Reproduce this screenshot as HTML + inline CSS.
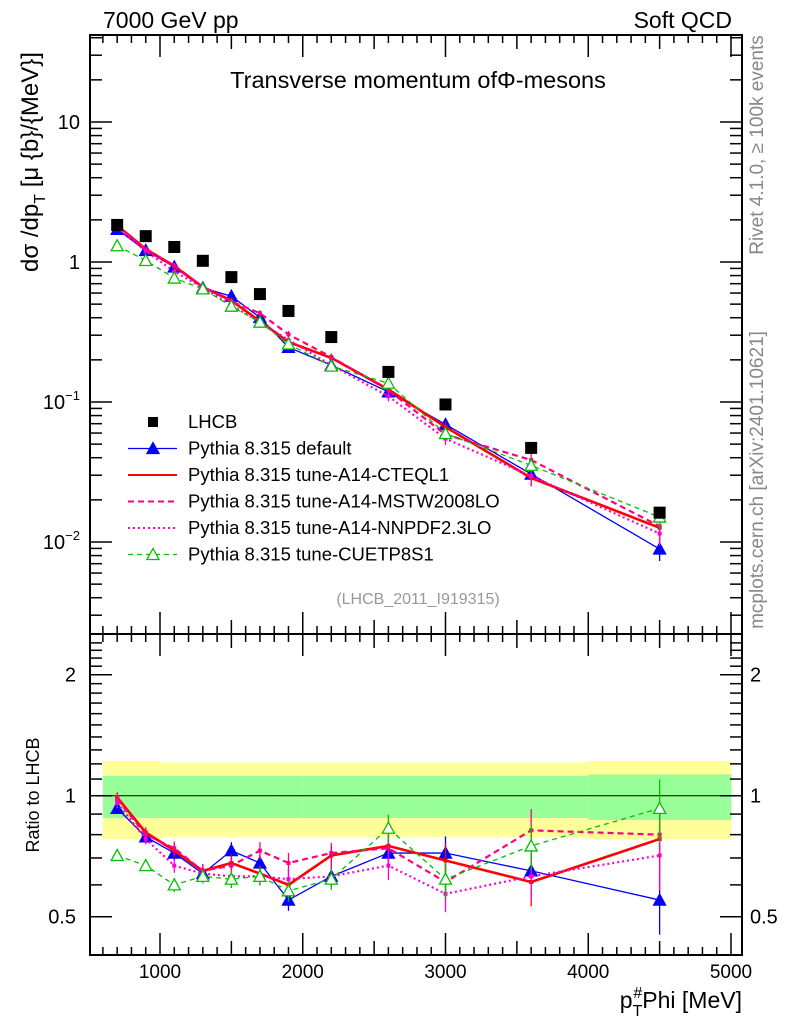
<!DOCTYPE html>
<html><head><meta charset="utf-8"><style>
body{margin:0;background:#fff}
svg text{font-family:"Liberation Sans",sans-serif}
</style></head><body>
<svg id="c" width="786" height="1024" xmlns="http://www.w3.org/2000/svg">
<text x="103" y="28" font-size="23">7000 GeV pp</text>
<text x="732" y="28" font-size="23" text-anchor="end">Soft QCD</text>
<text x="418" y="88" font-size="23.5" text-anchor="middle">Transverse momentum ofΦ-mesons</text>
<text transform="translate(38,162) rotate(-90)" font-size="24" text-anchor="middle">dσ /dp<tspan font-size="16" dy="7">T</tspan><tspan dy="-7"> [μ {b}/{MeV}]</tspan></text>
<text transform="translate(39,795) rotate(-90)" font-size="18" text-anchor="middle">Ratio to LHCB</text>
<text transform="translate(763,145) rotate(-90)" font-size="19" fill="#888" text-anchor="middle">Rivet 4.1.0, ≥ 100k events</text>
<text transform="translate(763,480) rotate(-90)" font-size="19" fill="#888" text-anchor="middle">mcplots.cern.ch [arXiv:2401.10621]</text>
<text x="418" y="604" font-size="16" fill="#999" text-anchor="middle">(LHCB_2011_I919315)</text>
<text x="742" y="1008" font-size="23" text-anchor="end">p<tspan font-size="16" dy="8">T</tspan><tspan font-size="16" dy="-18" dx="-9">#</tspan><tspan dy="10">Phi [MeV]</tspan></text>
<g id="bands"></g><g id="axes"></g><g id="marks"></g><g id="legend"></g>
</svg>
<script>
const xs=[700,900,1100,1300,1500,1700,1900,2200,2600,3000,3600,4500];
const lhcb=[1.84,1.53,1.28,1.02,0.78,0.59,0.447,0.291,0.164,0.096,0.047,0.0162];
const rDefault=[0.93,0.79,0.72,0.64,0.73,0.68,0.55,0.63,0.72,0.72,0.65,0.55];
const rCTEQ=[0.99,0.81,0.73,0.65,0.68,0.64,0.60,0.71,0.75,0.69,0.61,0.78];
const rMSTW=[0.98,0.80,0.74,0.65,0.67,0.73,0.68,0.72,0.74,0.61,0.82,0.80];
const rNNPDF=[0.96,0.78,0.67,0.64,0.63,0.63,0.62,0.63,0.67,0.57,0.63,0.71];
const rCUET=[0.71,0.67,0.60,0.63,0.62,0.63,0.58,0.62,0.83,0.62,0.75,0.93];
const relErr=[0.03,0.03,0.04,0.04,0.05,0.05,0.06,0.06,0.08,0.1,0.13,0.18];
const binEdges=[600,800,1000,1200,1400,1600,1800,2000,2400,2800,3200,4000,5000];
const bandGreen=[0.12,0.12,0.12,0.12,0.12,0.12,0.12,0.12,0.12,0.12,0.12,0.13];
const bandYellow=[0.22,0.22,0.21,0.21,0.21,0.21,0.21,0.21,0.21,0.21,0.21,0.22];
const xTicks=[1000,2000,3000,4000,5000];
const NS='http://www.w3.org/2000/svg';
const L=90,R=742,T=35,MB=634,RB=955;
const X=v=>160+(v-1000)*0.14275;
const Y=v=>262-140*Math.log10(v);
const RY=v=>795.7-121*Math.log2(v);
function mk(p,tag,at){const e=document.createElementNS(NS,tag);for(const k in at)e.setAttribute(k,at[k]);p.appendChild(e);return e;}
const gB=document.getElementById('bands'),gA=document.getElementById('axes'),gM=document.getElementById('marks'),gL=document.getElementById('legend');
for(let i=0;i<bandYellow.length;i++){
 let e=mk(gB,'rect',{x:X(binEdges[i]),y:RY(1+bandYellow[i]),width:X(binEdges[i+1])-X(binEdges[i])+0.5,height:RY(1-bandYellow[i])-RY(1+bandYellow[i]),fill:'#ffff99'});
 
 e=mk(gB,'rect',{x:X(binEdges[i]),y:RY(1+bandGreen[i]),width:X(binEdges[i+1])-X(binEdges[i])+0.5,height:RY(1-bandGreen[i])-RY(1+bandGreen[i]),fill:'#99ff99'});
 
}
let ln=mk(gA,'line',{x1:L,x2:R,y1:RY(1),y2:RY(1),stroke:'#000','stroke-width':1});

[[T,MB],[MB,RB]].forEach(([a,b],k)=>{const f=mk(gA,'rect',{x:L,y:a,width:R-L,height:b-a,fill:'none',stroke:'#000','stroke-width':2});
});
for(let v=600;v<=5000;v+=100){const big=v%1000==0,mid=v%500==0;const len=big?22:(mid?14:8);const x=X(v);
 [[MB,-1],[T,1],[RB,-1],[MB,1]].forEach(([y,d])=>mk(gA,'line',{x1:x,x2:x,y1:y,y2:y+d*len,stroke:'#000','stroke-width':1.5}));}
xTicks.forEach(v=>{const t=mk(gA,'text',{x:X(v),y:978,'font-size':19,'text-anchor':'middle'});t.textContent=v;
});
for(let e=-3;e<=1;e++)for(let m=1;m<10;m++){const v=m*Math.pow(10,e);const y=Y(v);if(y<T||y>MB)continue;const len=m==1?22:12;
 mk(gA,'line',{x1:L,x2:L+len,y1:y,y2:y,stroke:'#000','stroke-width':1.5});mk(gA,'line',{x1:R,x2:R-len,y1:y,y2:y,stroke:'#000','stroke-width':1.5});}
[['10',10],['1',1]].forEach(([s,v])=>{const t=mk(gA,'text',{x:80,y:Y(v)+7,'font-size':20,'text-anchor':'end'});t.textContent=s;
});
[[-1,0.1],[-2,0.01]].forEach(([p,v])=>{const t=mk(gA,'text',{x:80,y:Y(v)+7,'font-size':20,'text-anchor':'end'});t.innerHTML='10<tspan font-size="13" dy="-9">−'+(-p)+'</tspan>';
});
for(let v=0.4;v<=2.5;v+=0.1){const vv=Math.round(v*10)/10;const y=RY(vv);if(y<MB||y>RB)continue;const big=(vv==0.5||vv==1||vv==2);const len=big?22:12;
 mk(gA,'line',{x1:L,x2:L+len,y1:y,y2:y,stroke:'#000','stroke-width':1.5});mk(gA,'line',{x1:R,x2:R-len,y1:y,y2:y,stroke:'#000','stroke-width':1.5});}
[['2',2],['1',1],['0.5',0.5]].forEach(([s,v])=>{[[76,'end'],[750,'start']].forEach(([x,a])=>{const t=mk(gA,'text',{x:x,y:RY(v)+7,'font-size':20,'text-anchor':a});t.textContent=s;
});});
const series=[
 {name:'default',r:rDefault,c:'#0000ff',w:1.3,d:'',m:'tri'},
 {name:'cteql1',r:rCTEQ,c:'#ff0000',w:2.6,d:'',m:'none'},
 {name:'mstw2008lo',r:rMSTW,c:'#ff0080',w:2.2,d:'6,4',m:'none'},
 {name:'nnpdf23lo',r:rNNPDF,c:'#ff00d0',w:2.2,d:'2,3',m:'none'},
 {name:'cuetp8s1',r:rCUET,c:'#00c000',w:1.3,d:'5,4',m:'otri'}];
function tri(g,x,y,c,fill){return mk(g,'path',{d:`M${x},${y-6}L${x+6},${y+5}L${x-6},${y+5}Z`,fill:fill?c:'#fff',stroke:c,'stroke-width':1.3});}
series.forEach(s=>{
 const g=mk(gM,'g',{});
 const mainPts=xs.map((x,i)=>[X(x),Y(lhcb[i]*s.r[i])]),ratPts=xs.map((x,i)=>[X(x),RY(s.r[i])]);
 [mainPts,ratPts].forEach((pts,k)=>{
  const pl=mk(g,'polyline',{points:pts.map(p=>p.join(',')).join(' '),fill:'none',stroke:s.c,'stroke-width':s.w,'stroke-dasharray':s.d});
  
  xs.forEach((x,i)=>{const v=k?s.r[i]:lhcb[i]*s.r[i];const f=k?RY:Y;const e=relErr[i];
   mk(g,'line',{x1:X(x),x2:X(x),y1:f(v*(1+e)),y2:f(v*(1-e)),stroke:s.c,'stroke-width':1.3});
   if(s.m=='tri'){const p=tri(g,X(x),f(v),s.c,true);}
   else if(s.m=='otri'){const p=tri(g,X(x),f(v),s.c,false);}
   else{const p=mk(g,'rect',{x:X(x)-2,y:f(v)-2,width:4,height:4,fill:s.c});}
  });
 });
});
xs.forEach((x,i)=>{const p=mk(gM,'rect',{x:X(x)-6,y:Y(lhcb[i])-6,width:12,height:12,fill:'#000'});
});
const legNames=['LHCB','Pythia 8.315 default','Pythia 8.315 tune-A14-CTEQL1','Pythia 8.315 tune-A14-MSTW2008LO','Pythia 8.315 tune-A14-NNPDF2.3LO','Pythia 8.315 tune-CUETP8S1'];
legNames.forEach((n,i)=>{const y=422+i*26.5;const g=mk(gL,'g',{});
 if(i==0)mk(g,'rect',{x:148,y:y-5,width:10,height:10,fill:'#000'});
 else{const s=series[i-1];mk(g,'line',{x1:128,x2:177,y1:y,y2:y,stroke:s.c,'stroke-width':Math.min(s.w,2),'stroke-dasharray':s.d});
  if(s.m=='tri')tri(g,153,y,s.c,true);if(s.m=='otri')tri(g,153,y,s.c,false);}
 const t=mk(g,'text',{x:188,y:y+6,'font-size':18.5});t.textContent=n;});
</script>
</body></html>
